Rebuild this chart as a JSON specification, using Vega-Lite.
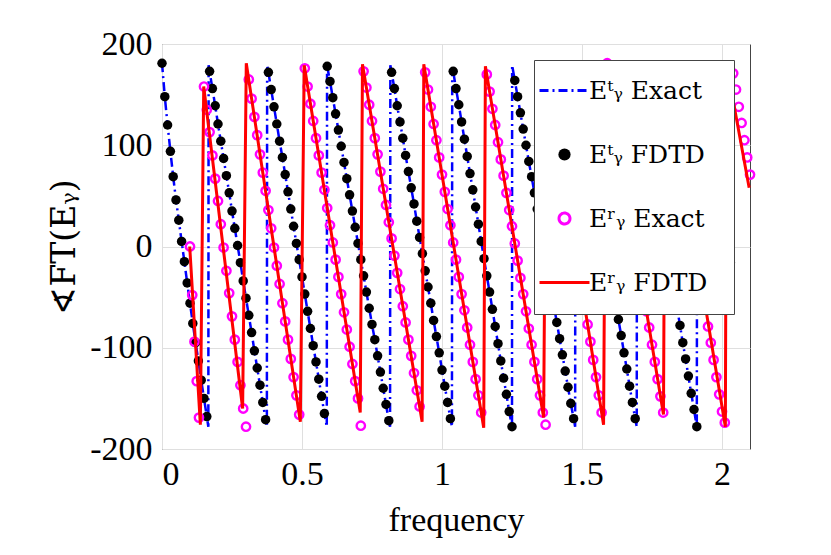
{
  "$schema": "https://vega.github.io/schema/vega-lite/v6.json",
  "width": 588,
  "height": 405,
  "autosize": {"type": "none"},
  "padding": {"left": 162, "top": 44, "right": 81, "bottom": 106},
  "background": "white",
  "config": {
    "view": {"stroke": "#444444", "strokeWidth": 1},
    "font": "Liberation Serif",
    "axis": {
      "labelFont": "Liberation Serif", "titleFont": "Liberation Serif",
      "labelFontSize": 34, "titleFontSize": 34, "titleFontWeight": "normal",
      "labelColor": "black", "titleColor": "black",
      "gridColor": "#dfdfdf", "gridWidth": 1, "domain": false,
      "ticks": false
    }
  },
  "datasets": {
    "et": [
      {"f":0,"p":181,"k":"s"},{"f":0.01,"p":148,"k":"s"},{"f":0.02,"p":120,"k":"s"},{"f":0.03,"p":94,"k":"s"},{"f":0.04,"p":69,"k":"s"},{"f":0.05,"p":46,"k":"s"},{"f":0.06,"p":26,"k":"s"},{"f":0.07,"p":5,"k":"s"},{"f":0.08,"p":-15,"k":"s"},{"f":0.09,"p":-36,"k":"s"},{"f":0.1,"p":-56,"k":"s"},{"f":0.11,"p":-76,"k":"s"},{"f":0.12,"p":-95,"k":"s"},{"f":0.13,"p":-113,"k":"s"},{"f":0.14,"p":-132,"k":"s"},{"f":0.15,"p":-150,"k":"s"},{"f":0.16,"p":-168,"k":"s"},
      {"f":0.1655,"p":-178,"k":"w"},{"f":0.1665,"p":179,"k":"w"},
      {"f":0.17,"p":173,"k":"s"},{"f":0.18,"p":156,"k":"s"},{"f":0.19,"p":139,"k":"s"},{"f":0.2,"p":121,"k":"s"},{"f":0.21,"p":104,"k":"s"},{"f":0.22,"p":87,"k":"s"},{"f":0.23,"p":70,"k":"s"},{"f":0.24,"p":53,"k":"s"},{"f":0.25,"p":35,"k":"s"},{"f":0.26,"p":18,"k":"s"},{"f":0.27,"p":1,"k":"s"},{"f":0.28,"p":-16,"k":"s"},{"f":0.29,"p":-34,"k":"s"},{"f":0.3,"p":-51,"k":"s"},{"f":0.31,"p":-68,"k":"s"},{"f":0.32,"p":-85,"k":"s"},{"f":0.33,"p":-103,"k":"s"},{"f":0.34,"p":-120,"k":"s"},{"f":0.35,"p":-137,"k":"s"},{"f":0.36,"p":-154,"k":"s"},{"f":0.37,"p":-171,"k":"s"},
      {"f":0.3745,"p":-178,"k":"w"},{"f":0.3755,"p":179,"k":"w"},
      {"f":0.38,"p":172,"k":"s"},{"f":0.39,"p":155,"k":"s"},{"f":0.4,"p":138,"k":"s"},{"f":0.41,"p":121,"k":"s"},{"f":0.42,"p":104,"k":"s"},{"f":0.43,"p":88,"k":"s"},{"f":0.44,"p":71,"k":"s"},{"f":0.45,"p":54,"k":"s"},{"f":0.46,"p":37,"k":"s"},{"f":0.47,"p":20,"k":"s"},{"f":0.48,"p":3,"k":"s"},{"f":0.49,"p":-13,"k":"s"},{"f":0.5,"p":-30,"k":"s"},{"f":0.51,"p":-47,"k":"s"},{"f":0.52,"p":-64,"k":"s"},{"f":0.53,"p":-81,"k":"s"},{"f":0.54,"p":-98,"k":"s"},{"f":0.55,"p":-114,"k":"s"},{"f":0.56,"p":-131,"k":"s"},{"f":0.57,"p":-148,"k":"s"},{"f":0.58,"p":-165,"k":"s"},
      {"f":0.5885,"p":-178,"k":"w"},{"f":0.5895,"p":179,"k":"w"},
      {"f":0.59,"p":178,"k":"s"},{"f":0.6,"p":163,"k":"s"},{"f":0.61,"p":147,"k":"s"},{"f":0.62,"p":131,"k":"s"},{"f":0.63,"p":115,"k":"s"},{"f":0.64,"p":99,"k":"s"},{"f":0.65,"p":83,"k":"s"},{"f":0.66,"p":67,"k":"s"},{"f":0.67,"p":51,"k":"s"},{"f":0.68,"p":35,"k":"s"},{"f":0.69,"p":19,"k":"s"},{"f":0.7,"p":3,"k":"s"},{"f":0.71,"p":-13,"k":"s"},{"f":0.72,"p":-29,"k":"s"},{"f":0.73,"p":-45,"k":"s"},{"f":0.74,"p":-61,"k":"s"},{"f":0.75,"p":-77,"k":"s"},{"f":0.76,"p":-92,"k":"s"},{"f":0.77,"p":-108,"k":"s"},{"f":0.78,"p":-124,"k":"s"},{"f":0.79,"p":-140,"k":"s"},{"f":0.8,"p":-156,"k":"s"},{"f":0.81,"p":-172,"k":"s"},
      {"f":0.8145,"p":-178,"k":"w"},{"f":0.8155,"p":179,"k":"w"},
      {"f":0.82,"p":172,"k":"s"},{"f":0.83,"p":156,"k":"s"},{"f":0.84,"p":139,"k":"s"},{"f":0.85,"p":123,"k":"s"},{"f":0.86,"p":107,"k":"s"},{"f":0.87,"p":90,"k":"s"},{"f":0.88,"p":74,"k":"s"},{"f":0.89,"p":58,"k":"s"},{"f":0.9,"p":42,"k":"s"},{"f":0.91,"p":25,"k":"s"},{"f":0.92,"p":9,"k":"s"},{"f":0.93,"p":-7,"k":"s"},{"f":0.94,"p":-24,"k":"s"},{"f":0.95,"p":-40,"k":"s"},{"f":0.96,"p":-56,"k":"s"},{"f":0.97,"p":-73,"k":"s"},{"f":0.98,"p":-89,"k":"s"},{"f":0.99,"p":-105,"k":"s"},{"f":1,"p":-122,"k":"s"},{"f":1.01,"p":-138,"k":"s"},{"f":1.02,"p":-154,"k":"s"},{"f":1.03,"p":-170,"k":"s"},
      {"f":1.0355,"p":-178,"k":"w"},{"f":1.0365,"p":179,"k":"w"},
      {"f":1.04,"p":173,"k":"s"},{"f":1.05,"p":156,"k":"s"},{"f":1.06,"p":140,"k":"s"},{"f":1.07,"p":123,"k":"s"},{"f":1.08,"p":106,"k":"s"},{"f":1.09,"p":89,"k":"s"},{"f":1.1,"p":72,"k":"s"},{"f":1.11,"p":56,"k":"s"},{"f":1.12,"p":39,"k":"s"},{"f":1.13,"p":22,"k":"s"},{"f":1.14,"p":5,"k":"s"},{"f":1.15,"p":-12,"k":"s"},{"f":1.16,"p":-29,"k":"s"},{"f":1.17,"p":-45,"k":"s"},{"f":1.18,"p":-62,"k":"s"},{"f":1.19,"p":-79,"k":"s"},{"f":1.2,"p":-96,"k":"s"},{"f":1.21,"p":-113,"k":"s"},{"f":1.22,"p":-130,"k":"s"},{"f":1.23,"p":-146,"k":"s"},{"f":1.24,"p":-163,"k":"s"},{"f":1.25,"p":-178,"k":"s"},
      {"f":1.2505,"p":179,"k":"w"},
      {"f":1.26,"p":164,"k":"s"},{"f":1.27,"p":148,"k":"s"},{"f":1.28,"p":132,"k":"s"},{"f":1.29,"p":116,"k":"s"},{"f":1.3,"p":100,"k":"s"},{"f":1.31,"p":84,"k":"s"},{"f":1.32,"p":69,"k":"s"},{"f":1.33,"p":53,"k":"s"},{"f":1.34,"p":37,"k":"s"},{"f":1.35,"p":21,"k":"s"},{"f":1.36,"p":5,"k":"s"},{"f":1.37,"p":-11,"k":"s"},{"f":1.38,"p":-27,"k":"s"},{"f":1.39,"p":-43,"k":"s"},{"f":1.4,"p":-59,"k":"s"},{"f":1.41,"p":-75,"k":"s"},{"f":1.42,"p":-91,"k":"s"},{"f":1.43,"p":-107,"k":"s"},{"f":1.44,"p":-123,"k":"s"},{"f":1.45,"p":-139,"k":"s"},{"f":1.46,"p":-155,"k":"s"},{"f":1.47,"p":-170,"k":"s"},
      {"f":1.4755,"p":-178,"k":"w"},{"f":1.4765,"p":179,"k":"w"},
      {"f":1.48,"p":174,"k":"s"},{"f":1.49,"p":157,"k":"s"},{"f":1.5,"p":141,"k":"s"},{"f":1.51,"p":124,"k":"s"},{"f":1.52,"p":108,"k":"s"},{"f":1.53,"p":92,"k":"s"},{"f":1.54,"p":75,"k":"s"},{"f":1.55,"p":59,"k":"s"},{"f":1.56,"p":43,"k":"s"},{"f":1.57,"p":26,"k":"s"},{"f":1.58,"p":10,"k":"s"},{"f":1.59,"p":-7,"k":"s"},{"f":1.6,"p":-23,"k":"s"},{"f":1.61,"p":-39,"k":"s"},{"f":1.62,"p":-56,"k":"s"},{"f":1.63,"p":-72,"k":"s"},{"f":1.64,"p":-88,"k":"s"},{"f":1.65,"p":-105,"k":"s"},{"f":1.66,"p":-121,"k":"s"},{"f":1.67,"p":-138,"k":"s"},{"f":1.68,"p":-154,"k":"s"},{"f":1.69,"p":-170,"k":"s"},
      {"f":1.6955,"p":-178,"k":"w"},{"f":1.6965,"p":179,"k":"w"},
      {"f":1.7,"p":173,"k":"s"},{"f":1.71,"p":157,"k":"s"},{"f":1.72,"p":140,"k":"s"},{"f":1.73,"p":123,"k":"s"},{"f":1.74,"p":106,"k":"s"},{"f":1.75,"p":90,"k":"s"},{"f":1.76,"p":73,"k":"s"},{"f":1.77,"p":56,"k":"s"},{"f":1.78,"p":39,"k":"s"},{"f":1.79,"p":23,"k":"s"},{"f":1.8,"p":6,"k":"s"},{"f":1.81,"p":-11,"k":"s"},{"f":1.82,"p":-28,"k":"s"},{"f":1.83,"p":-44,"k":"s"},{"f":1.84,"p":-61,"k":"s"},{"f":1.85,"p":-78,"k":"s"},{"f":1.86,"p":-95,"k":"s"},{"f":1.87,"p":-111,"k":"s"},{"f":1.88,"p":-128,"k":"s"},{"f":1.89,"p":-145,"k":"s"},{"f":1.9,"p":-161,"k":"s"},{"f":1.91,"p":-178,"k":"s"},
      {"f":1.9115,"p":179,"k":"w"},
      {"f":1.92,"p":165,"k":"s"},{"f":1.93,"p":149,"k":"s"},{"f":1.94,"p":132,"k":"s"},{"f":1.95,"p":116,"k":"s"},{"f":1.96,"p":99,"k":"s"},{"f":1.97,"p":83,"k":"s"},{"f":1.98,"p":66,"k":"s"},{"f":1.99,"p":50,"k":"s"},{"f":2,"p":33,"k":"s"},{"f":2.01,"p":17,"k":"s"},{"f":2.02,"p":0,"k":"s"},{"f":2.03,"p":-16,"k":"s"}
    ],
    "er": [
      {"f":0.1,"p":0},{"f":0.108,"p":-48},{"f":0.116,"p":-94},{"f":0.124,"p":-133},{"f":0.132,"p":-169},
      {"f":0.15,"p":158},{"f":0.16,"p":135},{"f":0.17,"p":113},{"f":0.18,"p":90},{"f":0.19,"p":67},{"f":0.2,"p":45},{"f":0.21,"p":22},{"f":0.22,"p":-1},{"f":0.23,"p":-24},{"f":0.24,"p":-46},{"f":0.25,"p":-69},{"f":0.26,"p":-92},{"f":0.27,"p":-114},{"f":0.28,"p":-137},{"f":0.29,"p":-160},{"f":0.3,"p":-178},
      {"f":0.31,"p":165},{"f":0.32,"p":146},{"f":0.33,"p":128},{"f":0.34,"p":110},{"f":0.35,"p":91},{"f":0.36,"p":73},{"f":0.37,"p":55},{"f":0.38,"p":36},{"f":0.39,"p":18},{"f":0.4,"p":-1},{"f":0.41,"p":-19},{"f":0.42,"p":-37},{"f":0.43,"p":-56},{"f":0.44,"p":-74},{"f":0.45,"p":-92},{"f":0.46,"p":-111},{"f":0.47,"p":-129},{"f":0.48,"p":-147},{"f":0.49,"p":-166},
      {"f":0.51,"p":176},{"f":0.52,"p":158},{"f":0.53,"p":141},{"f":0.54,"p":124},{"f":0.55,"p":107},{"f":0.56,"p":90},{"f":0.57,"p":73},{"f":0.58,"p":56},{"f":0.59,"p":38},{"f":0.6,"p":21},{"f":0.61,"p":4},{"f":0.62,"p":-13},{"f":0.63,"p":-30},{"f":0.64,"p":-47},{"f":0.65,"p":-65},{"f":0.66,"p":-82},{"f":0.67,"p":-99},{"f":0.68,"p":-116},{"f":0.69,"p":-133},{"f":0.7,"p":-150},{"f":0.71,"p":-177},
      {"f":0.72,"p":173},{"f":0.73,"p":157},{"f":0.74,"p":140},{"f":0.75,"p":124},{"f":0.76,"p":107},{"f":0.77,"p":91},{"f":0.78,"p":74},{"f":0.79,"p":57},{"f":0.8,"p":41},{"f":0.81,"p":24},{"f":0.82,"p":8},{"f":0.83,"p":-9},{"f":0.84,"p":-26},{"f":0.85,"p":-42},{"f":0.86,"p":-59},{"f":0.87,"p":-75},{"f":0.88,"p":-92},{"f":0.89,"p":-108},{"f":0.9,"p":-125},{"f":0.91,"p":-142},{"f":0.92,"p":-158},
      {"f":0.94,"p":172},{"f":0.95,"p":155},{"f":0.96,"p":138},{"f":0.97,"p":121},{"f":0.98,"p":105},{"f":0.99,"p":88},{"f":1,"p":71},{"f":1.01,"p":54},{"f":1.02,"p":37},{"f":1.03,"p":21},{"f":1.04,"p":4},{"f":1.05,"p":-13},{"f":1.06,"p":-30},{"f":1.07,"p":-47},{"f":1.08,"p":-63},{"f":1.09,"p":-80},{"f":1.1,"p":-97},{"f":1.11,"p":-114},{"f":1.12,"p":-131},{"f":1.13,"p":-147},{"f":1.14,"p":-164},
      {"f":1.16,"p":170},{"f":1.17,"p":153},{"f":1.18,"p":136},{"f":1.19,"p":120},{"f":1.2,"p":103},{"f":1.21,"p":86},{"f":1.22,"p":70},{"f":1.23,"p":53},{"f":1.24,"p":36},{"f":1.25,"p":20},{"f":1.26,"p":3},{"f":1.27,"p":-14},{"f":1.28,"p":-31},{"f":1.29,"p":-47},{"f":1.3,"p":-64},{"f":1.31,"p":-81},{"f":1.32,"p":-97},{"f":1.33,"p":-114},{"f":1.34,"p":-131},{"f":1.35,"p":-147},{"f":1.36,"p":-164},{"f":1.37,"p":-176},
      {"f":1.38,"p":166},{"f":1.39,"p":149},{"f":1.4,"p":131},{"f":1.41,"p":114},{"f":1.42,"p":97},{"f":1.43,"p":79},{"f":1.44,"p":62},{"f":1.45,"p":45},{"f":1.46,"p":27},{"f":1.47,"p":10},{"f":1.48,"p":-8},{"f":1.49,"p":-25},{"f":1.5,"p":-42},{"f":1.51,"p":-60},{"f":1.52,"p":-77},{"f":1.53,"p":-94},{"f":1.54,"p":-112},{"f":1.55,"p":-129},{"f":1.56,"p":-147},{"f":1.57,"p":-164},
      {"f":1.59,"p":181},{"f":1.6,"p":157},{"f":1.61,"p":138},{"f":1.62,"p":121},{"f":1.63,"p":104},{"f":1.64,"p":88},{"f":1.65,"p":71},{"f":1.66,"p":54},{"f":1.67,"p":37},{"f":1.68,"p":20},{"f":1.69,"p":4},{"f":1.7,"p":-13},{"f":1.71,"p":-30},{"f":1.72,"p":-47},{"f":1.73,"p":-64},{"f":1.74,"p":-80},{"f":1.75,"p":-97},{"f":1.76,"p":-114},{"f":1.77,"p":-131},{"f":1.78,"p":-148},{"f":1.79,"p":-164},
      {"f":1.8,"p":175},{"f":1.81,"p":158},{"f":1.82,"p":141},{"f":1.83,"p":124},{"f":1.84,"p":107},{"f":1.85,"p":90},{"f":1.86,"p":74},{"f":1.87,"p":57},{"f":1.88,"p":40},{"f":1.89,"p":23},{"f":1.9,"p":6},{"f":1.91,"p":-11},{"f":1.92,"p":-28},{"f":1.93,"p":-45},{"f":1.94,"p":-62},{"f":1.95,"p":-79},{"f":1.96,"p":-95},{"f":1.97,"p":-112},{"f":1.98,"p":-129},{"f":1.99,"p":-146},{"f":2,"p":-163},{"f":2.01,"p":-174},
      {"f":2.04,"p":171},{"f":2.05,"p":155},{"f":2.06,"p":138},{"f":2.07,"p":122},{"f":2.08,"p":105},{"f":2.09,"p":88},{"f":2.1,"p":71}
    ],
    "rl": [
      {"f":0.099,"p":0},{"f":0.137,"p":-176},{"f":0.149,"p":158},{"f":0.288,"p":-160},{"f":0.301,"p":181},{"f":0.494,"p":-173},{"f":0.508,"p":179},{"f":0.708,"p":-164},{"f":0.716,"p":180},{"f":0.929,"p":-173},{"f":0.935,"p":180},{"f":1.149,"p":-179},{"f":1.155,"p":178},{"f":1.363,"p":-169},{"f":1.372,"p":180},{"f":1.577,"p":-176},{"f":1.585,"p":180},{"f":1.791,"p":-166},{"f":1.797,"p":180},{"f":2.012,"p":-178},{"f":2.016,"p":180},{"f":2.097,"p":58}
    ]
  },
  "encoding": {
    "x": {
      "field": "f", "type": "quantitative",
      "scale": {"domain": [0, 2.1], "nice": false, "zero": false},
      "axis": {"values": [0, 0.5, 1, 1.5, 2], "title": "frequency", "labelExpr": "'' + datum.value", "labelPadding": 8, "titlePadding": 12, "grid": true}
    },
    "y": {
      "field": "p", "type": "quantitative",
      "scale": {"domain": [-200, 200], "nice": false},
      "axis": {"values": [-200, -100, 0, 100, 200], "title": "∢FT(Eᵧ)", "titleFont": "DejaVu Serif", "titleFontSize": 33, "labelExpr": "'' + datum.value", "labelPadding": 10, "titlePadding": 8, "grid": true}
    }
  },
  "layer": [
    {
      "data": {"name": "et"},
      "mark": {"type": "line", "strokeDash": [9, 4, 2, 4], "strokeWidth": 2.5},
      "encoding": {
        "color": {
          "datum": "Eᵗᵧ  Exact",
          "scale": {"domain": ["Eᵗᵧ  Exact", "Eᵗᵧ  FDTD", "Eʳᵧ  Exact", "Eʳᵧ  FDTD"], "range": ["#0000ff", "#000000", "#ff00ff", "#ff0000"]},
          "legend": {
            "title": null,
            "orient": "top-right",
            "offset": 16,
            "padding": 18,
            "fillColor": "white",
            "strokeColor": "#444444",
            "labelFont": "DejaVu Serif",
            "labelFontSize": 25,
            "labelColor": "black",
            "labelOffset": 12,
            "labelLimit": 300,
            "symbolSize": 2500,
            "rowPadding": 38,
            "encode": {
              "symbols": {
                "update": {
                  "shape": {"signal": "datum.index == 0 || datum.index == 3 ? 'stroke' : 'circle'"},
                  "size": {"signal": "datum.index == 0 || datum.index == 3 ? 2500 : datum.index == 1 ? 150 : 120"},
                  "strokeDash": {"signal": "datum.index == 0 ? [9, 4, 2, 4] : [1, 0]"},
                  "fill": {"signal": "datum.index == 1 ? '#000000' : '#ffffff'"},
                  "fillOpacity": {"signal": "datum.index == 1 ? 1 : 0"},
                  "stroke": {"signal": "['#0000ff', '#000000', '#ff00ff', '#ff0000'][datum.index]"},
                  "strokeWidth": {"signal": "datum.index == 1 ? 0 : 3"},
                  "opacity": {"value": 1}
                }
              }
            }
          }
        }
      }
    },
    {
      "data": {"name": "et"},
      "transform": [{"filter": "datum.k == 's'"}],
      "mark": {"type": "point", "shape": "circle", "filled": true, "size": 90, "opacity": 1},
      "encoding": {"color": {"datum": "Eᵗᵧ  FDTD"}}
    },
    {
      "data": {"name": "er"},
      "mark": {"type": "point", "shape": "circle", "filled": false, "size": 70, "strokeWidth": 2.4, "opacity": 1},
      "encoding": {"color": {"datum": "Eʳᵧ  Exact"}}
    },
    {
      "data": {"name": "rl"},
      "mark": {"type": "line", "strokeWidth": 3},
      "encoding": {"color": {"datum": "Eʳᵧ  FDTD"}}
    }
  ]
}
